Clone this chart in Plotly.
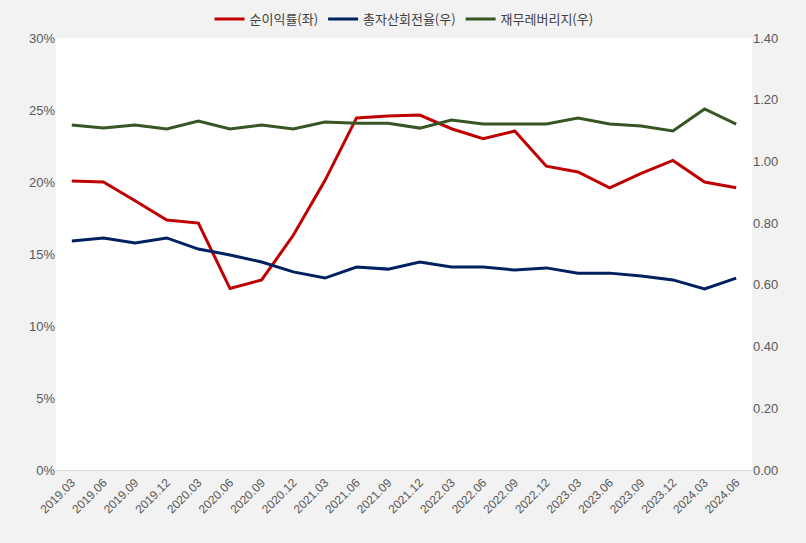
import plotly.graph_objects as go

periods = ["2019.03","2019.06","2019.09","2019.12","2020.03","2020.06","2020.09","2020.12",
           "2021.03","2021.06","2021.09","2021.12","2022.03","2022.06","2022.09","2022.12",
           "2023.03","2023.06","2023.09","2023.12","2024.03","2024.06"]
net_margin = [20.07,20.0,18.7,17.36,17.15,12.6,13.2,16.3,20.1,24.45,24.58,24.65,23.7,23.0,23.54,21.1,
              20.7,19.6,20.6,21.5,20.0,19.6]
asset_turnover = [0.742,0.752,0.736,0.752,0.716,0.697,0.674,0.642,0.622,0.658,0.651,0.674,0.658,0.658,
                  0.648,0.655,0.638,0.638,0.629,0.616,0.587,0.622]
leverage = [1.118,1.108,1.118,1.105,1.131,1.105,1.118,1.105,1.128,1.124,1.124,1.108,1.134,1.121,1.121,
            1.121,1.141,1.121,1.115,1.099,1.170,1.121]

font_family = "Liberation Sans, Arial, Noto Sans CJK KR, sans-serif"
fig = go.Figure()
fig.add_trace(go.Scatter(x=periods, y=net_margin, name="순이익률(좌)", mode="lines",
                         line=dict(color="#C00000", width=3), yaxis="y"))
fig.add_trace(go.Scatter(x=periods, y=asset_turnover, name="총자산회전율(우)", mode="lines",
                         line=dict(color="#002060", width=3), yaxis="y2"))
fig.add_trace(go.Scatter(x=periods, y=leverage, name="재무레버리지(우)", mode="lines",
                         line=dict(color="#375623", width=3), yaxis="y2"))

fig.update_layout(
    width=806, height=543,
    margin=dict(l=56, r=54, t=38, b=73, autoexpand=False),
    paper_bgcolor="#F2F2F2", plot_bgcolor="#FFFFFF",
    font=dict(family=font_family, size=13, color="#595959"),
    showlegend=True,
    legend=dict(orientation="h", x=0.5, xanchor="center", y=1.044, yanchor="middle",
                font=dict(size=13, color="#404040", family="Noto Sans CJK KR, sans-serif"),
                bgcolor="rgba(0,0,0,0)", itemwidth=30),
    xaxis=dict(type="category", range=[-0.5, 21.5], tickangle=-45, showgrid=False,
               showline=True, linecolor="#D9D9D9", linewidth=1, ticks="",
               tickfont=dict(size=12, color="#595959")),
    yaxis=dict(range=[0, 30], dtick=5, ticksuffix="%", showgrid=False, zeroline=False,
               ticks="", tickfont=dict(size=13, color="#595959")),
    yaxis2=dict(range=[0, 1.4], dtick=0.2, tickformat=".2f", overlaying="y", side="right",
                showgrid=False, zeroline=False, ticks="", tickfont=dict(size=13, color="#595959")),
)
fig.write_html("out.html")
